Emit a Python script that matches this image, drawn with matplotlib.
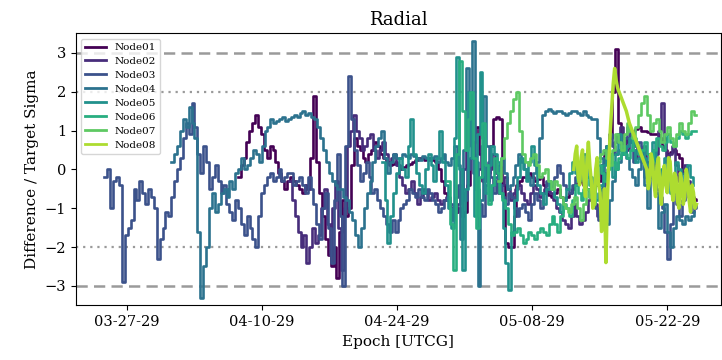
import datetime as dt
import numpy as np
import matplotlib
matplotlib.use("Agg")
import matplotlib.pyplot as plt
import matplotlib.dates as mdates

# ---------------- data ----------------
base_date = dt.datetime(2029, 3, 27)
node_names = ["Node01", "Node02", "Node03", "Node04", "Node05", "Node06", "Node07", "Node08"]

# (start day, end day) relative to base_date for each node's samples
node01_span = (11.5, 59.0)
node02_span = (16.8, 58.3)
node03_span = (-2.3, 59.0)
node04_span = (4.6, 58.7)
node05_span = (26.4, 58.6)
node06_span = (33.2, 59.0)
node07_span = (38.5, 59.0)
node08_span = (46.3, 59.0)

node01 = [-0.2, 0.1, 0.3, 0.7, 1.0, 1.2, 1.4, 1.1, 0.9, 0.5, 0.3, 0.6, 0.5, 0.2, -0.1, -0.3,
          -0.5, -0.3, -0.2, -0.3, -0.4, -0.5, -0.6, -0.4, -0.5, 0.3, 1.9, 0.2, -0.6, -1.2,
          -1.8, -2.2, -2.5, -2.0, -2.8, -1.6, -0.8, -1.2, -1.0, 0.1, 0.8, 0.6, 0.5, 0.3, 0.2,
          0.4, 0.5, 0.7, 0.6, 0.4, 0.3, 0.2, 0.1, 0.15, 0.2, 0.1, 0.0, 0.05, 0.1, 0.15, 0.2,
          0.25, 0.3, 0.3, 0.25, 0.3, 0.3, 0.25, 0.2, 0.0, -0.3, -0.6, -0.8, -1.0, -1.2, -1.1,
          -1.0, -1.2, -1.1, -0.4, 0.3, 0.7, 1.1, 0.4, -0.3, -0.2, -0.1, 0.6, 1.3, 1.35, 1.3,
          -0.4, -1.9, -2.0, -2.0, -1.2, -0.4, -0.3, -0.2, -0.2, -0.1, -0.2, -0.3, -0.25, -0.2,
          -0.4, -0.6, -0.65, -0.7, -0.6, -0.5, -0.7, -0.8, -0.7, -0.6, -0.5, -0.4, -0.35, -0.3,
          -0.4, -0.5, -0.55, -0.6, -0.4, -0.3, 0.1, 0.5, 0.6, 0.8, 2.0, 3.1, 1.2, 0.6, 0.7,
          0.8, 0.9, 1.0, 1.05, 1.1, 1.0, 1.0, 0.95, 0.9, 0.9, 0.9, 0.8, 0.6, 0.5, 0.4, 0.45,
          0.5, 0.4, 0.3, -0.1, -0.5, -0.6, -0.7, -0.75, -0.8]

node02 = [-0.3, -0.8, -1.2, -1.6, -2.0, -1.7, -2.4, -2.0, -1.5, -1.9, -1.7, -1.0, -0.5, -1.4,
          -2.2, -1.0, -0.3, -1.5, -2.6, -1.0, 0.6, 1.0, 1.4, 1.0, 0.8, 0.5, 0.6, 0.8, 0.9, 0.5,
          0.3, 0.5, 0.7, 0.4, 0.2, 0.3, 0.4, 0.1, -0.2, -0.4, -0.6, -0.5, -0.3, -0.6, -0.9,
          -0.7, -0.5, -0.6, -0.8, -0.7, -0.6, -0.8, -0.9, -0.8, -0.7, -1.0, -1.3, -1.1, -0.9,
          -0.5, 0.0, 0.6, 1.3, 0.4, -0.5, 0.0, 0.6, 0.1, -0.3, 0.0, 0.4, -0.1, -0.6, -0.4,
          -0.2, -0.5, -0.8, -0.6, -0.5, -0.4, -0.6, -0.8, -0.9, -0.6, -0.4, -0.5, -0.7, -0.6,
          -0.5, -0.55, -0.6, -0.8, -1.0, -1.1, -1.3, -1.4, -1.5, -1.2, -0.9, -1.2, -1.4, -1.3,
          -1.1, -0.8, -0.6, -0.9, -1.2, -0.8, -0.4, -0.1, 0.2, 0.4, 0.7, 0.9, 1.1, 0.8, 0.5,
          0.7, 0.9, 0.6, 0.3, 0.4, 0.6, 0.2, -0.2, 0.1, 0.4, 1.0, 1.7, 0.8, 0.2, 0.4, 0.6, 0.1,
          -0.3, -0.1, 0.1, -0.3, -0.6]

node03 = [-0.2, 0.0, -1.0, -0.3, -0.2, -0.4, -2.9, -1.7, -1.5, -1.3, -0.5, -0.8, -0.3, -0.6,
          -0.9, -0.5, -0.7, -1.0, -2.3, -1.8, -1.5, -1.1, -1.2, -0.7, -0.3, 0.0, 0.3, 0.8, 1.2,
          0.9, 1.7, 1.1, 0.4, -0.1, 0.6, 0.2, -0.5, -0.2, 0.1, -0.3, -0.6, -0.4, -0.9, -1.1,
          -1.3, -0.8, -1.0, -1.4, -1.7, -1.2, -1.5, -1.8, -2.0, -1.2, -0.6, -0.4, -0.2, -0.1,
          -0.3, -0.2, 0.0, -0.3, -0.2, -0.1, -0.1, -0.4, -0.3, -0.2, -0.4, -0.6, -0.2, -0.5,
          -0.9, -1.4, -1.8, -1.0, -0.6, -1.5, -2.4, -0.8, 0.4, -1.2, -3.0, 0.6, 2.4, 1.3, 0.5,
          0.1, -0.3, -0.1, 0.2, -0.2, -0.6, -0.5, -0.8, -1.0, -1.2, -1.4, -1.6, -1.3, -1.6,
          -1.3, -1.0, -0.9, -0.8, -0.5, -0.6, -0.7, -0.5, -0.7, -0.8, -0.5, -0.6, -0.8, -0.9,
          -1.1, -1.0, -0.8, -0.7, -0.9, -1.1, -0.7, -0.4, -0.6, -0.8, 0.0, 0.3, -0.1, -0.5,
          -0.9, -1.2, -0.4, 0.2, -0.2, -0.6, -0.3, -0.4, -0.7, -0.9, -0.6, -0.7, -1.0, -1.2,
          -1.0, -0.9, -1.1, -1.3, -0.9, -0.6, -0.8, -1.0, -0.6, -0.3, -0.4, -0.5, -0.2, 0.1,
          -0.1, -0.4, -0.5, -0.6, -0.4, -0.2, -0.1, 0.0, -0.3, -0.5, -0.7, -0.8, -1.0, -1.3,
          -0.5, 0.3, 0.6, 0.9, 0.6, 0.4, 0.5, 0.6, 0.8, 1.1, 0.7, 0.2, 0.5, 0.7, 0.2, -0.2, 0.1,
          0.4, -0.1, -0.5, -0.7, -1.0, -1.6, -2.3, -1.4, -0.6, -0.9, -1.2, -0.8, -0.4, -0.7,
          -1.1, -1.0, -0.9]

node04 = [0.2, 0.4, 0.6, 1.0, 1.3, 1.1, 1.6, 1.2, 0.8, -1.6, -3.3, -2.5, -2.0, -1.0, -0.6,
          -1.1, -0.9, -0.6, -0.5, -0.7, -0.3, -0.5, -0.1, 0.0, 0.3, 0.0, 0.1, 0.3, 0.5, 0.4,
          0.2, 0.6, 1.0, 1.1, 1.3, 1.2, 1.25, 1.3, 1.35, 1.25, 1.3, 1.35, 1.4, 1.35, 1.45, 1.5,
          1.4, 1.45, 1.35, 1.3, 1.1, 0.8, 0.5, 0.2, -0.1, -0.3, -0.4, -0.5, -0.5, -0.7, -0.8,
          -1.1, -1.3, -1.7, -2.0, -1.5, -1.0, -0.6, -0.3, 0.2, 0.6, 0.8, 1.0, 0.3, -0.1, 0.2,
          0.4, 0.3, 0.3, 0.4, 0.35, 0.3, 0.4, 0.35, 0.3, 0.25, 0.35, 0.3, 0.25, 0.3, 0.35, 0.2,
          0.3, 0.4, 0.2, 0.1, 0.3, 0.6, 0.1, -1.8, 0.5, 2.6, 1.0, 3.3, 0.2, -3.0, -0.8, 1.9,
          0.6, -0.8, -0.4, -0.2, 0.1, 0.3, -0.1, -0.5, -0.4, -0.2, 0.1, 0.4, 0.2, 0.0, -0.2,
          -0.4, -0.1, 0.2, 0.8, 1.4, 1.5, 1.55, 1.5, 1.45, 1.5, 1.5, 1.45, 1.4, 1.45, 1.5, 1.5,
          1.45, 1.4, 1.5, 1.4, 1.35, 1.3, 1.3, 0.8, 0.3, -0.6, -1.4, -0.8, -0.3, 0.0, 0.2, 0.4,
          0.6, 0.3, 0.0, -0.2, -0.4, 0.0, 0.3, -0.4, -1.0, -0.2, 0.5, -0.6, -1.5, -1.1, -0.9,
          -1.6, -2.0, -1.5, -1.2, -1.3, -1.4, -1.2, -1.3, -1.2, -1.1]

node05 = [0.2, -0.8, -1.9, -1.2, -0.6, -0.1, 0.3, 0.0, -0.2, 0.6, 1.3, 0.4, -0.1, -0.4, -0.6,
          0.0, 0.4, 0.1, -0.3, 0.3, 1.0, 0.2, -0.4, -1.0, -1.5, 0.8, 2.9, 0.0, -2.6, -0.5, 2.0,
          0.3, -1.2, 0.9, 2.5, 0.8, -0.6, 0.1, 0.6, 0.4, 0.2, -0.6, -1.5, -2.4, -3.1, -1.6,
          -0.8, -0.2, 0.3, 0.0, -0.3, 0.2, 0.6, 0.1, -0.4, -0.6, -0.9, -0.5, -0.3, -0.5, -0.7,
          -0.9, -1.1, -0.8, -0.5, -0.1, 0.2, -0.1, -0.3, 0.1, 0.4, 0.1, -0.2, -0.5, -0.8, -0.6,
          -0.4, 0.1, 0.6, 0.2, -0.2, 0.4, 0.9, 0.6, 0.4, 0.6, 0.8, 0.5, 0.2, 0.3, 0.5, 0.3,
          0.1, 0.4, 0.7, 0.2, -0.3, 0.0, 0.3, -0.1, -0.6, -0.2, 0.2, 0.0, -0.3, -0.1, 0.1,
          -0.2, -0.4]

node06 = [-0.3, -1.4, -2.6, 0.4, 2.8, 1.5, 0.5, 1.3, 2.0, 0.3, -1.5, -0.2, 1.2, 0.1, -0.9,
          -0.4, 0.3, -0.1, -0.6, -0.8, -1.0, -1.4, -1.7, -1.6, -1.5, -1.7, -1.9, -1.8, -1.6,
          -1.7, -1.8, -1.6, -1.5, -1.6, -1.7, -1.4, -1.2, -1.4, -1.6, -1.2, -0.9, -1.0, -1.2,
          -0.8, -0.4, -0.6, -0.8, -0.5, -0.2, -0.4, -0.6, -0.2, 0.1, -0.1, -0.3, 0.0, 0.4, 0.2,
          0.0, 0.3, 0.6, 0.4, 0.3, 0.5, 0.8, 0.6, 0.4, 0.5, 0.7, 0.4, 0.2, 0.5, 0.8, 0.6, 0.5,
          0.7, 0.9, 0.7, 0.6, 0.8, 1.0, 0.9, 0.8, 0.9, 1.0, 1.0, 1.0]

node07 = [-0.3, 0.3, 0.8, 1.2, 1.5, 1.8, 2.0, 1.0, 0.4, 0.2, 0.1, 0.3, 0.4, 0.1, -0.2, -0.1,
          0.0, -0.3, -0.5, -0.3, -0.4, -0.7, -0.9, -1.0, -1.1, -0.9, -0.7, -1.0, -1.3, -0.9,
          -0.5, -0.7, -0.9, -0.3, 0.2, 0.4, 0.5, 0.3, 0.1, 0.5, 0.9, 0.7, 0.5, 0.9, 1.2, 1.0,
          0.8, 1.1, 1.4, 1.7, 1.9, 1.4, 1.0, 1.2, 1.3, 1.0, 0.7, 0.9, 1.1, 0.8, 0.6, 0.9, 1.2,
          1.0, 0.9, 1.2, 1.5, 1.4, 1.4]

node08 = [0.0, 0.4, 0.6, -0.2, -0.4, 0.3, 0.5, -0.3, -0.7, 0.2, 0.7, 0.1, -0.3, -1.0, -0.9,
          0.0, 0.3, -0.4, -0.6, -1.6, -1.3, -0.5, -2.4, -0.8, 0.2, 1.0, 1.6, 2.2, 2.6, 2.3,
          2.1, 2.0, 1.9, 1.8, 1.7, 1.6, 1.5, 1.35, 1.2, 1.1, 1.0, 0.9, 0.8, 0.7, 0.6, 0.5,
          0.4, 0.3, 0.2, 0.1, 0.0, -0.5, -0.3, 0.4, 0.2, -0.4, -0.7, 0.1, 0.3, -0.5, -0.9,
          -0.2, 0.1, -0.4, -0.6, 0.3, 0.2, -0.5, -0.8, -0.1, -0.2, -0.8, -1.0, -0.1, -0.3,
          -0.9, -0.7, 0.0, -0.2, -0.8, -1.1, -0.4, -0.6, -1.0, -0.9]

series_values = [node01, node02, node03, node04, node05, node06, node07, node08]
series_spans = [node01_span, node02_span, node03_span, node04_span,
                node05_span, node06_span, node07_span, node08_span]

tick_days = [0, 14, 28, 42, 56]
x_limits_days = (-5.27, 61.5)
y_limits = (-3.5, 3.5)
sigma_dashed = [3, -3]
sigma_dotted = [2, -2]

# ---------------- plot ----------------
plt.rcParams["font.family"] = ["DejaVu Serif"]

fig = plt.figure(figsize=(7.22, 3.60), dpi=100)
ax = fig.add_axes([0.105, 0.152, 0.893, 0.755])

cmap = plt.get_cmap("viridis")
n = len(node_names)
for i, (name, vals, span) in enumerate(zip(node_names, series_values, series_spans)):
    days = np.linspace(span[0], span[1], len(vals))
    times = [base_date + dt.timedelta(days=float(d)) for d in days]
    ds = "default" if name == "Node08" else "steps-post"
    lw = 2.5 if name == "Node08" else 1.9
    ax.plot(times, vals, color=cmap(i / n), lw=lw, drawstyle=ds, label=name, zorder=2 + i)

for yv in sigma_dashed:
    ax.axhline(yv, color="#9a9a9a", lw=1.8, ls=(0, (4.5, 2.5)), zorder=1)
for yv in sigma_dotted:
    ax.axhline(yv, color="#9a9a9a", lw=1.6, ls=(0, (1, 2.2)), zorder=1)

ax.set_xlim(base_date + dt.timedelta(days=x_limits_days[0]),
            base_date + dt.timedelta(days=x_limits_days[1]))
ax.set_ylim(*y_limits)
ax.set_xticks([base_date + dt.timedelta(days=d) for d in tick_days])
ax.xaxis.set_major_formatter(mdates.DateFormatter("%m-%d-%y"))
ax.set_yticks([-3, -2, -1, 0, 1, 2, 3])
ax.tick_params(labelsize=10.5)

ax.set_title("Radial", fontsize=13)
ax.set_xlabel("Epoch [UTCG]", fontsize=11)
ax.set_ylabel("Difference / Target Sigma", fontsize=11)

for line in ax.legend(loc="upper left", fontsize=7.5, handlelength=2.0, labelspacing=0.45,
                      borderpad=0.4, framealpha=0.8).get_lines():
    line.set_linewidth(2.0)

fig.savefig("out.png", dpi=100)
